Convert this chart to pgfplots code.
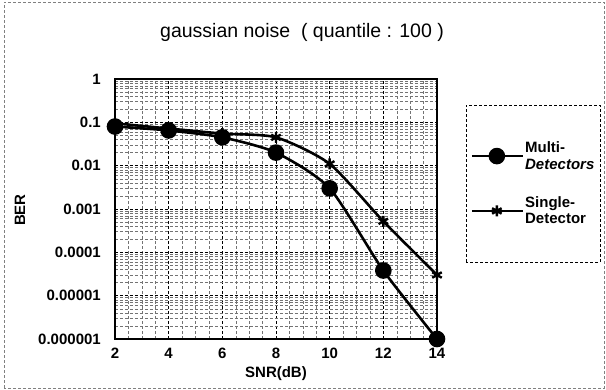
\documentclass[border=0pt]{standalone}
\usepackage{pgfplots}
\pgfplotsset{compat=1.18}
\usepackage{fontspec}
\setmainfont{Liberation Sans}
\begin{document}
\begin{tikzpicture}[x=1pt,y=1pt]
\useasboundingbox (0,0) rectangle (606,390);
\draw[gray, densely dashed, line width=0.6pt] (4,2) rectangle (604,388);
\node[font=\fontsize{19.5}{19.5}\selectfont] at (302,358) {gaussian noise \ ( quantile : 100 )};
\draw[black, line width=0.8pt, densely dashed] (466,128) rectangle (600,285);
\begin{axis}[
  at={(115pt,51pt)}, anchor=south west,
  scale only axis, width=322pt, height=260pt,
  ymode=log, ymin=1e-6, ymax=1,
  xmin=2, xmax=14,
  xtick={2,4,6,8,10,12,14},
  xticklabels={2,4,6,8,10,12,14},
  minor x tick num=3,
  ytick={1e-6,1e-5,1e-4,1e-3,1e-2,1e-1,1},
  yticklabels={0.000001,0.00001,0.0001,0.001,0.01,0.1,1},
  major tick length=0pt, minor tick length=0pt,
  grid=both,
  major grid style={black, dash pattern=on 3pt off 2pt, line width=0.5pt},
  minor grid style={black!55, dash pattern=on 3pt off 2pt, line width=0.35pt},
  axis line style={line width=2.6pt},
  ticklabel style={font=\bfseries\fontsize{15}{15}\selectfont},
  yticklabel style={inner sep=0pt, xshift=-14pt},
  xticklabel style={inner sep=0pt, yshift=-9pt},
  xlabel={\textbf{SNR(dB)}},
  xlabel style={font=\fontsize{15}{15}\selectfont, inner sep=0pt, at={(0.5,-0.135)}, anchor=center},
  clip=false,
  legend style={at={(1.298,0.598)}, anchor=center, draw=none, fill=none,
    font=\bfseries\fontsize{15}{16.5}\selectfont,
    cells={align=left, anchor=west}, row sep=24pt, column sep=0pt,
    nodes={inner sep=1pt}},
  legend image code/.code={\draw[mark repeat=2,mark phase=2,#1] plot coordinates {(0pt,0pt) (25pt,0pt) (51pt,0pt)};},
]
\node[rotate=90, font=\bfseries\fontsize{15}{15}\selectfont] at (rel axis cs:-0.295,0.496) {BER};
\addplot[black, line width=2.6pt, smooth, tension=0.4, mark=*, mark size=7pt, mark options={solid}]
  coordinates {(2,0.08) (4,0.065) (6,0.045) (8,0.02) (10,0.003) (12,0.000038) (14,0.000001)};
\addlegendentry{Multi-\\\textit{Detectors}}
\addplot[black, line width=2.6pt, smooth, tension=0.4, mark=asterisk, mark size=5.5pt, mark options={solid, line width=2.4pt}]
  coordinates {(2,0.095) (4,0.072) (6,0.055) (8,0.045) (10,0.011) (12,0.00052) (14,0.00003)};
\addlegendentry{Single-\\Detector}
\end{axis}
\end{tikzpicture}
\end{document}
